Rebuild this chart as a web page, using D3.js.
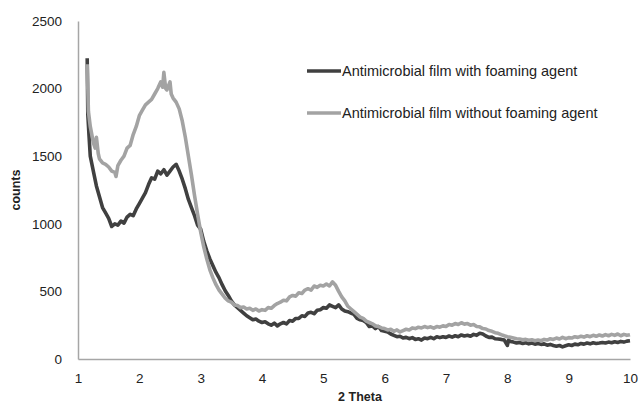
<!DOCTYPE html>
<html>
<head>
<meta charset="utf-8">
<script src="https://cdn.jsdelivr.net/npm/d3@7"></script>
<style>
  body { margin: 0; background: #fff; }
  svg { display: block; font-family: "Liberation Sans", Arial, sans-serif; }
</style>
</head>
<body>
<svg width="642" height="405"></svg>
<script>
// series names, as in the legend
var seriesNames = ["Antimicrobial film with foaming agent", "Antimicrobial film without foaming agent"];

// [2 theta, counts]
var withFoaming = [
  [1.15, 2225], [1.16, 1810], [1.18, 1650], [1.20, 1500], [1.25, 1390], [1.30, 1280], [1.35, 1200],
  [1.40, 1120], [1.45, 1080], [1.50, 1040], [1.55, 980], [1.60, 1000], [1.65, 990], [1.70, 1020],
  [1.75, 1005], [1.80, 1050], [1.85, 1070], [1.90, 1060], [1.95, 1110], [2.00, 1150], [2.05, 1190],
  [2.10, 1230], [2.15, 1290], [2.20, 1340], [2.25, 1330], [2.30, 1390], [2.35, 1370], [2.40, 1400],
  [2.45, 1360], [2.50, 1390], [2.55, 1420], [2.60, 1440], [2.65, 1390], [2.70, 1330], [2.75, 1260],
  [2.80, 1180], [2.85, 1120], [2.90, 1060], [2.95, 990], [3.00, 960], [3.05, 870], [3.10, 800],
  [3.15, 740], [3.20, 690], [3.25, 640], [3.30, 600], [3.35, 550], [3.40, 505], [3.45, 470],
  [3.50, 430], [3.55, 400], [3.60, 380], [3.65, 360], [3.70, 340], [3.75, 320], [3.80, 305],
  [3.85, 290], [3.90, 295], [3.95, 280], [4.00, 270], [4.05, 275], [4.10, 260], [4.15, 250],
  [4.20, 265], [4.25, 245], [4.30, 260], [4.35, 270], [4.40, 260], [4.45, 285], [4.50, 280],
  [4.55, 300], [4.60, 300], [4.65, 320], [4.70, 315], [4.75, 340], [4.80, 345], [4.85, 335],
  [4.90, 360], [4.95, 365], [5.00, 380], [5.05, 375], [5.10, 400], [5.15, 390], [5.20, 380],
  [5.25, 400], [5.30, 370], [5.35, 355], [5.40, 350], [5.45, 340], [5.50, 330], [5.55, 300],
  [5.60, 290], [5.65, 285], [5.70, 270], [5.75, 240], [5.80, 245], [5.85, 225], [5.90, 240],
  [5.95, 210], [6.00, 205], [6.05, 200], [6.10, 185], [6.15, 175], [6.20, 165], [6.25, 168],
  [6.30, 155], [6.35, 160], [6.40, 150], [6.45, 158], [6.50, 145], [6.55, 150], [6.60, 140],
  [6.65, 155], [6.70, 150], [6.75, 160], [6.80, 150], [6.85, 165], [6.90, 158], [6.95, 165],
  [7.00, 160], [7.05, 170], [7.10, 162], [7.15, 172], [7.20, 165], [7.25, 178], [7.30, 170],
  [7.35, 175], [7.40, 168], [7.45, 182], [7.50, 175], [7.55, 190], [7.60, 185], [7.65, 170],
  [7.70, 160], [7.75, 162], [7.80, 150], [7.85, 148], [7.90, 145], [7.95, 140], [8.00, 100],
  [8.02, 140], [8.05, 130], [8.10, 125], [8.15, 118], [8.20, 122], [8.25, 115], [8.30, 120],
  [8.35, 112], [8.40, 118], [8.45, 110], [8.50, 115], [8.55, 108], [8.60, 112], [8.65, 102],
  [8.70, 108], [8.75, 100], [8.80, 95], [8.85, 100], [8.90, 90], [8.95, 98], [9.00, 105],
  [9.05, 100], [9.10, 110], [9.15, 105], [9.20, 115], [9.25, 110], [9.30, 118], [9.35, 112],
  [9.40, 120], [9.45, 115], [9.50, 118], [9.55, 122], [9.60, 118], [9.65, 125], [9.70, 120],
  [9.75, 128], [9.80, 122], [9.85, 130], [9.90, 125], [9.95, 132], [10.00, 135]
];

var withoutFoaming = [
  [1.15, 2180], [1.17, 1830], [1.20, 1720], [1.25, 1600], [1.28, 1560], [1.30, 1640], [1.33, 1520],
  [1.35, 1480], [1.40, 1450], [1.45, 1440], [1.50, 1420], [1.55, 1390], [1.60, 1380], [1.62, 1350],
  [1.65, 1430], [1.70, 1470], [1.75, 1500], [1.80, 1560], [1.85, 1580], [1.90, 1660], [1.95, 1720],
  [2.00, 1800], [2.05, 1840], [2.10, 1880], [2.15, 1900], [2.20, 1920], [2.25, 1960], [2.30, 2000],
  [2.35, 2050], [2.38, 2010], [2.40, 2120], [2.43, 2000], [2.45, 1990], [2.50, 2050], [2.52, 1960],
  [2.55, 1930], [2.60, 1900], [2.65, 1850], [2.70, 1760], [2.75, 1640], [2.80, 1500], [2.85, 1360],
  [2.90, 1210], [2.95, 1070], [3.00, 940], [3.05, 830], [3.10, 740], [3.15, 660], [3.20, 600],
  [3.25, 550], [3.30, 510], [3.35, 480], [3.40, 450], [3.45, 430], [3.50, 420], [3.55, 400],
  [3.60, 395], [3.65, 380], [3.70, 385], [3.75, 370], [3.80, 375], [3.85, 360], [3.90, 370],
  [3.95, 355], [4.00, 365], [4.05, 360], [4.10, 380], [4.15, 375], [4.20, 395], [4.25, 410],
  [4.30, 420], [4.35, 435], [4.40, 430], [4.45, 460], [4.50, 470], [4.55, 465], [4.60, 490],
  [4.65, 485], [4.70, 510], [4.75, 520], [4.80, 510], [4.85, 540], [4.90, 530], [4.95, 545],
  [5.00, 540], [5.05, 555], [5.10, 540], [5.15, 570], [5.20, 545], [5.25, 500], [5.30, 460],
  [5.35, 430], [5.40, 390], [5.45, 370], [5.50, 350], [5.55, 330], [5.60, 310], [5.65, 300],
  [5.70, 280], [5.75, 270], [5.80, 260], [5.85, 245], [5.90, 240], [5.95, 230], [6.00, 225],
  [6.05, 215], [6.10, 220], [6.15, 205], [6.20, 215], [6.25, 200], [6.30, 210], [6.35, 220],
  [6.40, 215], [6.45, 230], [6.50, 225], [6.55, 235], [6.60, 230], [6.65, 240], [6.70, 232],
  [6.75, 238], [6.80, 228], [6.85, 240], [6.90, 235], [6.95, 245], [7.00, 240], [7.05, 255],
  [7.10, 250], [7.15, 262], [7.20, 255], [7.25, 268], [7.30, 258], [7.35, 262], [7.40, 250],
  [7.45, 255], [7.50, 240], [7.55, 238], [7.60, 225], [7.65, 222], [7.70, 210], [7.75, 205],
  [7.80, 195], [7.85, 190], [7.90, 180], [7.95, 172], [8.00, 165], [8.05, 160], [8.10, 155],
  [8.15, 150], [8.20, 148], [8.25, 142], [8.30, 145], [8.35, 138], [8.40, 142], [8.45, 135],
  [8.50, 140], [8.55, 135], [8.60, 145], [8.65, 140], [8.70, 150], [8.75, 145], [8.80, 155],
  [8.85, 148], [8.90, 160], [8.95, 150], [9.00, 158], [9.05, 155], [9.10, 165], [9.15, 160],
  [9.20, 168], [9.25, 162], [9.30, 172], [9.35, 165], [9.40, 175], [9.45, 168], [9.50, 178],
  [9.55, 170], [9.60, 180], [9.65, 172], [9.70, 182], [9.75, 175], [9.80, 185], [9.85, 172],
  [9.90, 182], [9.95, 175], [10.00, 180]
];

var xTicks = [1, 2, 3, 4, 5, 6, 7, 8, 9, 10];
var yTicks = [0, 500, 1000, 1500, 2000, 2500];
var colors = ["#404040", "#a3a3a3"];

var svg = d3.select("svg");

var x = d3.scaleLinear().domain([1, 10]).range([78, 630]);
var y = d3.scaleLinear().domain([0, 2500]).range([359, 21]);

// axes: plain grey lines, no tick marks
var xAxis = svg.append("g")
    .attr("transform", "translate(0," + y(0) + ")")
    .call(d3.axisBottom(x).tickValues(xTicks).tickFormat(d3.format("d")).tickSize(0).tickPadding(14));
var yAxis = svg.append("g")
    .attr("transform", "translate(" + x(1) + ",0)")
    .call(d3.axisLeft(y).tickValues(yTicks).tickFormat(d3.format("d")).tickSize(0).tickPadding(16));

[xAxis, yAxis].forEach(function(a) {
    a.select(".domain").attr("stroke", "#a6a6a6").attr("stroke-width", 1.5);
    a.selectAll("text")
        .attr("fill", "#222")
        .style("font-size", "13.5px")
        .style("font-family", "'Liberation Sans', Arial, sans-serif");
});

// lines
var line = d3.line()
    .x(function(d) { return x(d[0]); })
    .y(function(d) { return y(d[1]); });

svg.append("g").selectAll("path")
    .data([withFoaming, withoutFoaming])
    .enter()
    .append("path")
    .attr("d", line)
    .attr("fill", "none")
    .attr("stroke", function(d, i) { return colors[i]; })
    .attr("stroke-width", 3.6)
    .attr("stroke-linejoin", "round");

// axis titles
svg.append("text")
    .attr("x", 360).attr("y", 401)
    .attr("text-anchor", "middle")
    .style("font-size", "12.5px").style("font-weight", "bold")
    .attr("fill", "#222")
    .text("2 Theta");

svg.append("text")
    .attr("transform", "translate(20,190) rotate(-90)")
    .attr("text-anchor", "middle")
    .style("font-size", "12.5px").style("font-weight", "bold")
    .attr("fill", "#222")
    .text("counts");

// legend
var legend = svg.append("g").selectAll("g")
    .data(seriesNames)
    .enter()
    .append("g")
    .attr("transform", function(d, i) { return "translate(307," + (71 + i * 42) + ")"; });

legend.append("line")
    .attr("x1", 0).attr("x2", 34)
    .attr("stroke", function(d, i) { return colors[i]; })
    .attr("stroke-width", 3.5);

legend.append("text")
    .attr("x", 35).attr("y", 5)
    .style("font-size", "14.5px")
    .attr("fill", "#222")
    .text(function(d) { return d; });
</script>
</body>
</html>
